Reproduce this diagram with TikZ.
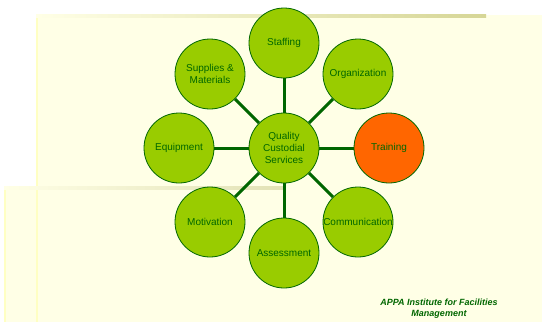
\documentclass[tikz,border=0pt]{standalone}
\usepackage{fontspec}
\setmainfont{Liberation Sans}
\usepackage{xcolor}
\usepackage{tikz}
\usetikzlibrary{positioning}
\definecolor{leafgreen}{RGB}{153, 204, 0}
\definecolor{stemgreen}{RGB}{0, 102, 0}
\definecolor{trainorange}{RGB}{255, 102, 0}
\definecolor{paperyellow}{RGB}{255, 255, 230}
\definecolor{edgeyellow}{RGB}{255, 255, 195}
\definecolor{rulekhaki}{RGB}{214, 214, 150}

\begin{document}
\begin{tikzpicture}[
    x=1pt, y=-1pt,
    topic/.style={circle, draw=stemgreen, fill=#1, line width=0.8pt,
                  minimum size=70pt, inner sep=0pt, align=center,
                  text=stemgreen, font=\fontsize{10}{12}\selectfont},
    topic/.default=leafgreen,
    spoke/.style={line width=3pt, stemgreen}
]
    % Slide background
    \useasboundingbox (0,0) rectangle (542,322);
    \fill[white] (0,0) rectangle (542,322);
    \fill[paperyellow] (36,15) rectangle (542,187);
    \fill[paperyellow] (4,187) rectangle (542,322);
    \draw[edgeyellow, line width=1.5pt] (37,15) -- (37,322);
    \draw[edgeyellow, line width=1.5pt] (5,187) -- (5,322);
    \shade[left color=paperyellow, right color=rulekhaki] (36,14) rectangle (486,17);
    \shade[left color=paperyellow, right color=rulekhaki!70] (4,186) rectangle (283,189);

    % Hub and topics
    \node[topic] (hub) at (284,148) {Quality\\Custodial\\Services};
    \node[topic] (staffing) at (284,43) {Staffing};
    \node[topic] (organization) at (358,74) {Organization};
    \node[topic=trainorange] (training) at (389,148) {Training};
    \node[topic] (communication) at (358,222) {Communication};
    \node[topic] (assessment) at (284,253) {Assessment};
    \node[topic] (motivation) at (210,222) {Motivation};
    \node[topic] (equipment) at (179,148) {Equipment};
    \node[topic] (supplies) at (210,74) {Supplies \&\\Materials};

    % Spokes
    \draw[spoke] (hub) -- (staffing);
    \draw[spoke] (hub) -- (organization);
    \draw[spoke] (hub) -- (training);
    \draw[spoke] (hub) -- (communication);
    \draw[spoke] (hub) -- (assessment);
    \draw[spoke] (hub) -- (motivation);
    \draw[spoke] (hub) -- (equipment);
    \draw[spoke] (hub) -- (supplies);

    % Footer
    \node[align=center, text=stemgreen, font=\fontsize{9}{11}\selectfont\bfseries\itshape]
        (credit) at (439,309) {APPA Institute for Facilities\\Management};
\end{tikzpicture}
\end{document}
